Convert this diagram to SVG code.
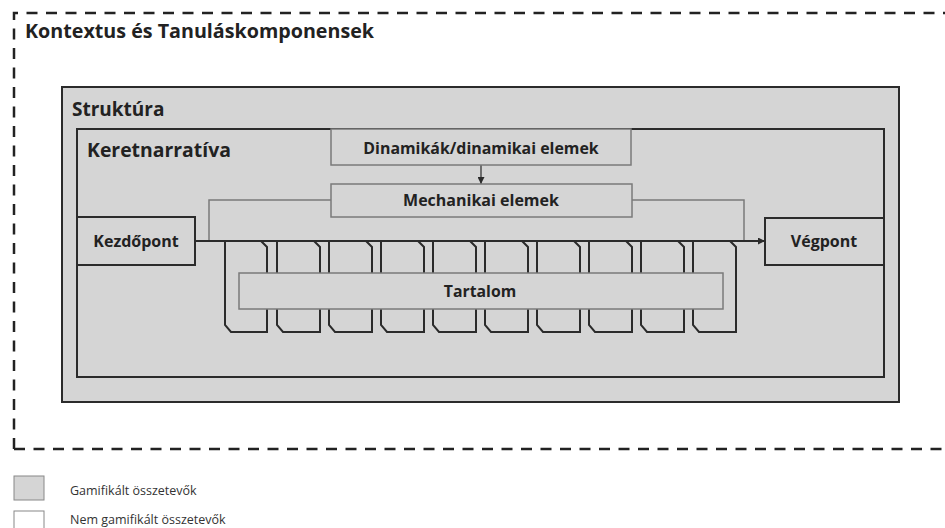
<svg xmlns="http://www.w3.org/2000/svg" width="945" height="528" viewBox="0 0 945 528">
<style>
.gray{fill:#d5d5d5}
.dk{stroke:#2b2b2b;stroke-width:2;fill:none}
.lt{stroke:#7a7a7a;stroke-width:1.5}
.t{font-family:"Open Sans","Noto Sans",sans-serif;font-weight:bold;fill:#222}
.c{text-anchor:middle}
.leg{font-family:"Open Sans","Noto Sans",sans-serif;font-size:12.5px;fill:#333}
</style>
<defs>
<marker id="ah" viewBox="0 0 10 10" refX="10" refY="5" markerWidth="7" markerHeight="7" markerUnits="userSpaceOnUse" orient="auto">
<path d="M0,0 L10,5 L0,10 z" fill="#2b2b2b"/>
</marker>
</defs>
<rect width="945" height="528" fill="#fff"/>
<g id="kontextus">
<path d="M14,449 L14,13 L960,13 M14,449 L960,449" fill="none" stroke="#222" stroke-width="2.5" stroke-dasharray="11,8.5"/>
<text class="t" x="25" y="38" font-size="19.7">Kontextus és Tanuláskomponensek</text>
</g>
<g id="struktura">
<rect class="gray" x="62" y="87" width="837" height="315" stroke="#2b2b2b" stroke-width="2"/>
<text class="t" x="72" y="116" font-size="19">Struktúra</text>
</g>
<g id="keretnarrativa">
<rect x="77" y="129" width="807" height="248" fill="none" stroke="#2b2b2b" stroke-width="2"/>
<text class="t" x="87" y="157" font-size="19.4">Keretnarratíva</text>
</g>
<g id="connectors">
<path d="M331,200 H209 V241 M632,200 H744 V241" fill="none" class="lt"/>
<line x1="481" y1="165" x2="481" y2="184" stroke="#2b2b2b" stroke-width="1.2" marker-end="url(#ah)"/>
<line x1="195" y1="241" x2="765" y2="241" stroke="#2b2b2b" stroke-width="2" marker-end="url(#ah)"/>
</g>
<g id="tartalom-ciklusok">
<path class="dk" d="M225,241 V325 L231,332 H267 V247 L261,241"/>
<path class="dk" d="M277,241 V325 L283,332 H320 V247 L314,241"/>
<path class="dk" d="M329,241 V325 L335,332 H372 V247 L366,241"/>
<path class="dk" d="M381,241 V325 L387,332 H424 V247 L418,241"/>
<path class="dk" d="M433,241 V325 L439,332 H476 V247 L470,241"/>
<path class="dk" d="M485,241 V325 L491,332 H528 V247 L522,241"/>
<path class="dk" d="M537,241 V325 L543,332 H580 V247 L574,241"/>
<path class="dk" d="M589,241 V325 L595,332 H632 V247 L626,241"/>
<path class="dk" d="M641,241 V325 L647,332 H684 V247 L678,241"/>
<path class="dk" d="M693,241 V325 L699,332 H736 V247 L730,241"/>
</g>
<g id="dinamikak">
<rect class="gray lt" x="331" y="129" width="300" height="36"/>
<text class="t c" x="481" y="154" font-size="15.9">Dinamikák/dinamikai elemek</text>
</g>
<g id="mechanikai">
<rect class="gray lt" x="331" y="184" width="301" height="33"/>
<text class="t c" x="481" y="206" font-size="16">Mechanikai elemek</text>
</g>
<g id="kezdopont">
<rect class="gray" x="77" y="217" width="118" height="48" stroke="#2b2b2b" stroke-width="2"/>
<text class="t c" x="136" y="247" font-size="16">Kezdőpont</text>
</g>
<g id="vegpont">
<rect class="gray" x="765" y="218" width="119" height="47" stroke="#2b2b2b" stroke-width="2"/>
<text class="t c" x="824" y="247" font-size="16">Végpont</text>
</g>
<g id="tartalom">
<rect class="gray lt" x="239" y="273" width="484" height="36"/>
<text class="t c" x="480" y="297" font-size="15.8">Tartalom</text>
</g>
<g id="legend">
<rect class="gray" x="14" y="476" width="30" height="24" stroke="#888" stroke-width="1"/>
<text class="leg" x="70" y="495">Gamifikált összetevők</text>
<rect x="14" y="511" width="30" height="24" fill="#fff" stroke="#888" stroke-width="1"/>
<text class="leg" x="70" y="524">Nem gamifikált összetevők</text>
</g>
</svg>
